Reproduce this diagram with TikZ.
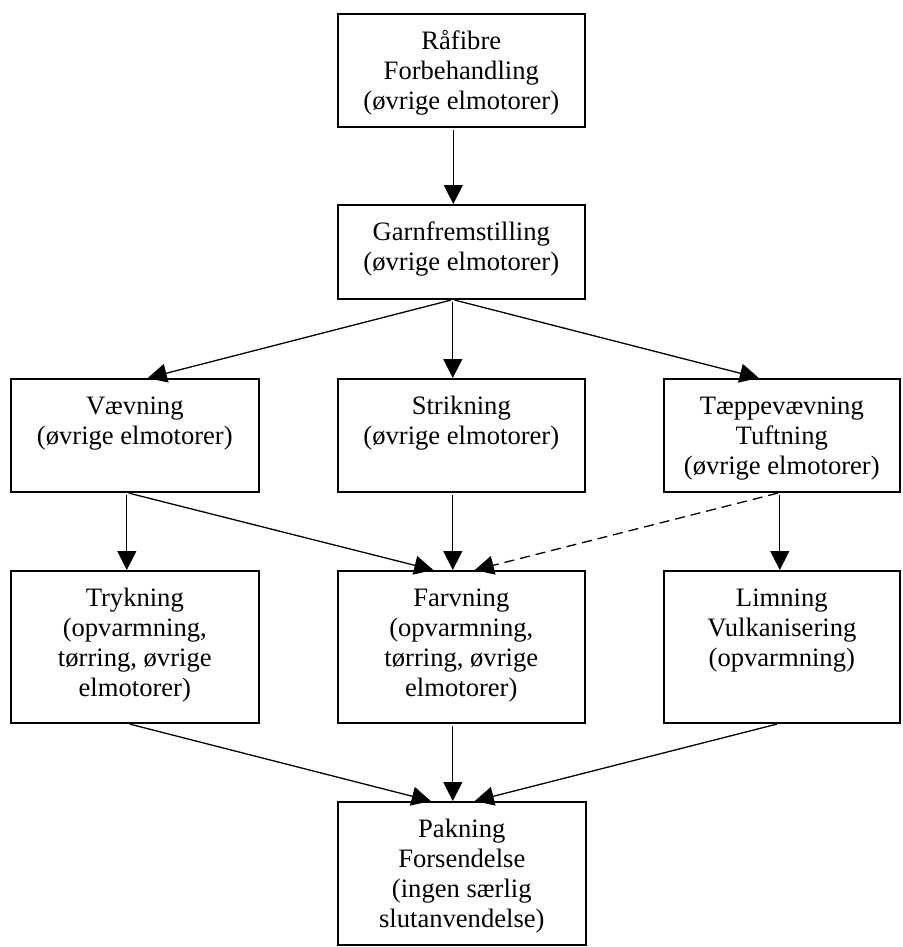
\documentclass[tikz,border=0pt]{standalone}
\usepackage{fontspec}
\setmainfont{Liberation Serif}
\usepackage{tikz}
\usetikzlibrary{arrows.meta}

% text set from the top of a box of given width and height
\newcommand{\kasse}[3]{\parbox[c][#2][t]{#1}{\centering\rule{0pt}{17.75pt}#3}}

\tikzset{
  trin/.style={draw, line width=0.8pt, inner sep=0pt, anchor=north west,
    font=\fontsize{13.3}{15}\selectfont},
  pil/.style={-{Triangle[length=9.5pt, width=9.5pt]}, line width=0.65pt, shorten <=1pt},
}

\begin{document}
\begin{tikzpicture}[x=0.5pt, y={(0pt,-0.5pt)}]
  \useasboundingbox (0,0) rectangle (902,947);

  % Raw fibre and yarn
  \node[trin] (raa) at (337,13) {\kasse{123.5pt}{56.5pt}{Råfibre\\Forbehandling\\(øvrige elmotorer)}};
  \node[trin] (garn) at (337,204) {\kasse{123.5pt}{47pt}{Garnfremstilling\\(øvrige elmotorer)}};

  % Weaving, knitting, carpets
  \node[trin] (vaev) at (10,378) {\kasse{124pt}{56.5pt}{Vævning\\(øvrige elmotorer)}};
  \node[trin] (strik) at (337,378) {\kasse{123.5pt}{56.5pt}{Strikning\\(øvrige elmotorer)}};
  \node[trin] (taep) at (663,378) {\kasse{118pt}{56.5pt}{Tæppevævning\\Tuftning\\(øvrige elmotorer)}};

  % Finishing
  \node[trin] (tryk) at (10,570) {\kasse{124pt}{76pt}{Trykning\\(opvarmning,\\tørring, øvrige\\elmotorer)}};
  \node[trin] (farv) at (337,570) {\kasse{123.5pt}{76pt}{Farvning\\(opvarmning,\\tørring, øvrige\\elmotorer)}};
  \node[trin] (limn) at (663,570) {\kasse{118pt}{76pt}{Limning\\Vulkanisering\\(opvarmning)}};

  % Packing
  \node[trin] (pakn) at (337,801) {\kasse{124pt}{71.5pt}{Pakning\\Forsendelse\\(ingen særlig\\slutanvendelse)}};

  % Connectors
  \draw[pil] ([xshift=-4pt]raa.south) -- ([xshift=-4pt]garn.north);
  \draw[pil] ([xshift=-4.25pt]garn.south) -- ([xshift=6.5pt]vaev.north);
  \draw[pil] ([xshift=-4.25pt]garn.south) -- ([xshift=-4.25pt]strik.north);
  \draw[pil] ([xshift=-4.25pt]garn.south) -- ([xshift=-11.5pt]taep.north);

  \draw[pil] ([xshift=-4pt]vaev.south) -- ([xshift=-4pt]tryk.north);
  \draw[pil] ([xshift=-4pt]vaev.south) -- ([xshift=-14pt]farv.north);
  \draw[pil] ([xshift=-4.25pt]strik.south) -- ([xshift=-4.25pt]farv.north);
  \draw[pil, dash pattern=on 5pt off 3pt] ([xshift=-1pt]taep.south) -- ([xshift=6.75pt]farv.north);
  \draw[pil] ([xshift=-1pt]taep.south) -- ([xshift=-1pt]limn.north);

  \draw[pil] ([xshift=-3.5pt]tryk.south) -- ([xshift=-15.5pt]pakn.north);
  \draw[pil] ([xshift=-4.25pt]farv.south) -- ([xshift=-4.5pt]pakn.north);
  \draw[pil] ([xshift=-1.5pt]limn.south) -- ([xshift=6.5pt]pakn.north);
\end{tikzpicture}
\end{document}
